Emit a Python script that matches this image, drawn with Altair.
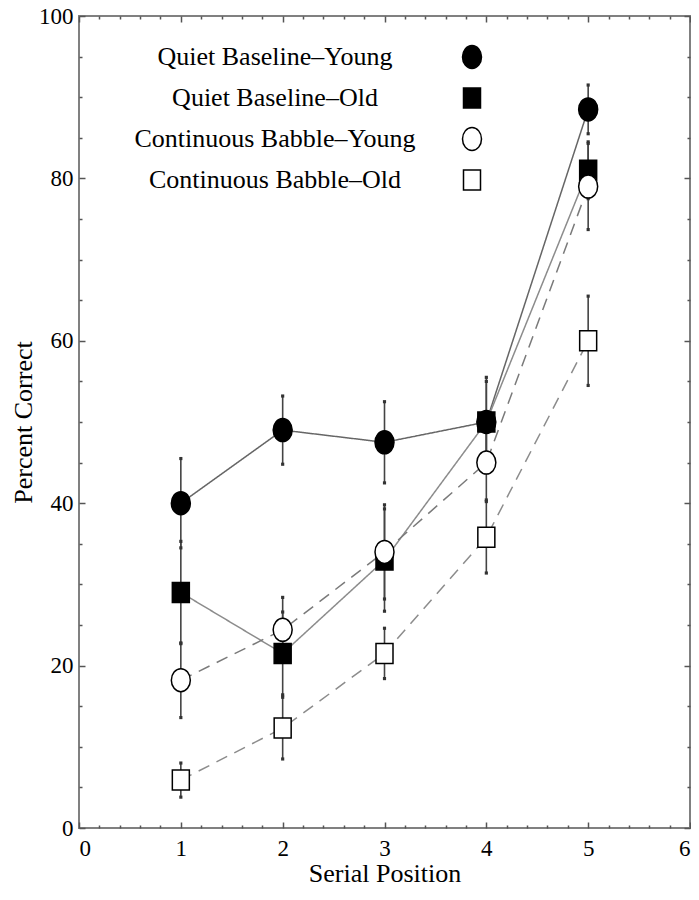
import altair as alt
import pandas as pd

# ---- data ----
positions = [1, 2, 3, 4, 5]
series_names = [
    "Quiet Baseline–Young",
    "Quiet Baseline–Old",
    "Continuous Babble–Young",
    "Continuous Babble–Old",
]
qb_young = [40.0, 49.0, 47.5, 50.0, 88.5]
qb_young_err = [5.5, 4.2, 5.0, 5.5, 3.0]
qb_old = [29.0, 21.5, 33.0, 50.0, 81.0]
qb_old_err = [6.3, 5.1, 6.3, 5.0, 3.5]
cb_young = [18.2, 24.4, 34.0, 45.0, 79.0]
cb_young_err = [4.6, 4.0, 5.8, 4.6, 5.3]
cb_old = [5.9, 12.3, 21.5, 35.8, 60.0]
cb_old_err = [2.1, 3.8, 3.1, 4.4, 5.5]

x_label_ticks = [0, 1, 2, 3, 4, 5, 6]
x_minor_ticks = [round(i * 0.2, 1) for i in range(31)]
y_label_ticks = [0, 20, 40, 60, 80, 100]
y_minor_ticks = [i * 5 for i in range(21)]

# ---- tables ----
rows = []
for name, vals, errs in [
    (series_names[0], qb_young, qb_young_err),
    (series_names[1], qb_old, qb_old_err),
    (series_names[2], cb_young, cb_young_err),
    (series_names[3], cb_old, cb_old_err),
]:
    for p, v, e in zip(positions, vals, errs):
        rows.append({"series": name, "pos": p, "pct": v, "lo": v - e, "hi": v + e})
df = pd.DataFrame(rows)
caps = pd.concat([
    df[["series", "pos", "lo"]].rename(columns={"lo": "end"}),
    df[["series", "pos", "hi"]].rename(columns={"hi": "end"}),
])

FONT = "Liberation Serif"
W, H = 611, 812
xs = alt.Scale(domain=[0, 6], nice=False, zero=False)
ys = alt.Scale(domain=[0, 100], nice=False, zero=False)

ellipse = "M-0.95,0 A0.95,1.15 0 1,0 0.95,0 A0.95,1.15 0 1,0 -0.95,0 Z"
square = "M-0.85,-1 L0.85,-1 L0.85,1 L-0.85,1 Z"

line_colors = ["#666666", "#8c8c8c", "#7a7a7a", "#8c8c8c"]
line_dashes = [[1, 0], [1, 0], [12, 8], [12, 8]]

x_tick_size = {"condition": {"test": "datum.value % 1 === 0", "value": 6}, "value": 3}
y_tick_size = {"condition": {"test": "datum.value % 20 === 0", "value": 6}, "value": 3}

tick_axis_common = dict(labels=False, domain=False, title=None, grid=False,
                        tickColor="#555", tickWidth=1.5)

x_main_axis = alt.Axis(
    orient="bottom", values=x_label_ticks, ticks=False, domain=False, grid=False,
    title="Serial Position", labelFont=FONT, labelFontSize=23, labelColor="black",
    labelPadding=9, titleFont=FONT, titleFontSize=26, titleFontWeight="normal",
    titleColor="black", titlePadding=0)
y_main_axis = alt.Axis(
    orient="left", values=y_label_ticks, ticks=False, domain=False, grid=False,
    title="Percent Correct", labelFont=FONT, labelFontSize=23, labelColor="black",
    labelPadding=6, titleFont=FONT, titleFontSize=26, titleFontWeight="normal",
    titleColor="black", titlePadding=2)

# one line layer per series (first carries the labelled axes)
line_layers = []
for i, name in enumerate(series_names):
    line_layers.append(
        alt.Chart(df).transform_filter(alt.datum.series == name)
        .mark_line(strokeWidth=1.5, color=line_colors[i], strokeDash=line_dashes[i])
        .encode(
            x=alt.X("pos:Q", scale=xs, axis=x_main_axis if i == 0 else None),
            y=alt.Y("pct:Q", scale=ys, axis=y_main_axis if i == 0 else None),
        )
    )

# error bars (+ inward ticks on bottom and left edges)
bars = alt.Chart(df).mark_rule(color="#444", strokeWidth=1.6).encode(
    x=alt.X("pos:Q", scale=xs, axis=alt.Axis(
        orient="top", offset=-H, values=x_minor_ticks, tickSize=x_tick_size,
        **tick_axis_common)),
    y=alt.Y("lo:Q", scale=ys, axis=alt.Axis(
        orient="right", offset=-W, values=y_minor_ticks, tickSize=y_tick_size,
        **tick_axis_common)),
    y2="hi:Q",
)

# error-bar end dots (+ inward ticks on top and right edges)
capmarks = alt.Chart(caps).mark_point(shape="square", filled=True, size=10,
                                      color="#333", opacity=1).encode(
    x=alt.X("pos:Q", scale=xs, axis=alt.Axis(
        orient="bottom", offset=-H, values=x_minor_ticks, tickSize=x_tick_size,
        **tick_axis_common)),
    y=alt.Y("end:Q", scale=ys, axis=alt.Axis(
        orient="left", offset=-W, values=y_minor_ticks, tickSize=y_tick_size,
        **tick_axis_common)),
)

series_legend = alt.Legend(
    title=None, orient="none", legendX=174, legendY=28,
    labelFont=FONT, labelFontSize=26, labelColor="black",
    labelAlign="center", labelOffset=alt.ExprRef("-210"), labelLimit=500,
    symbolOffset=206, symbolSize=400, symbolStrokeColor="black",
    symbolStrokeWidth=1.5, rowPadding=13,
)

points = alt.Chart(df).mark_point(filled=True, size=400,
                                  strokeWidth=1.5, opacity=1).encode(
    x=alt.X("pos:Q", scale=xs, axis=None),
    y=alt.Y("pct:Q", scale=ys, axis=None),
    fill=alt.Fill("series:N", scale=alt.Scale(
        domain=series_names, range=["black", "black", "white", "white"]),
        legend=series_legend),
    stroke=alt.Stroke("series:N", scale=alt.Scale(
        domain=series_names, range=["black", "black", "black", "black"]),
        legend=series_legend),
    shape=alt.Shape("series:N", scale=alt.Scale(
        domain=series_names, range=[ellipse, square, ellipse, square]),
        legend=series_legend),
)

chart = alt.layer(*line_layers, bars, capmarks, points).resolve_scale(
    x="independent", y="independent"
).properties(
    width=W, height=H,
    autosize=alt.AutoSizeParams(type="none"),
    padding={"left": 71, "top": 8, "right": 1, "bottom": 62},
).configure_view(
    stroke="#808080", strokeWidth=2
)

chart.save("out.html", embed_options={"renderer": "svg", "actions": False})
